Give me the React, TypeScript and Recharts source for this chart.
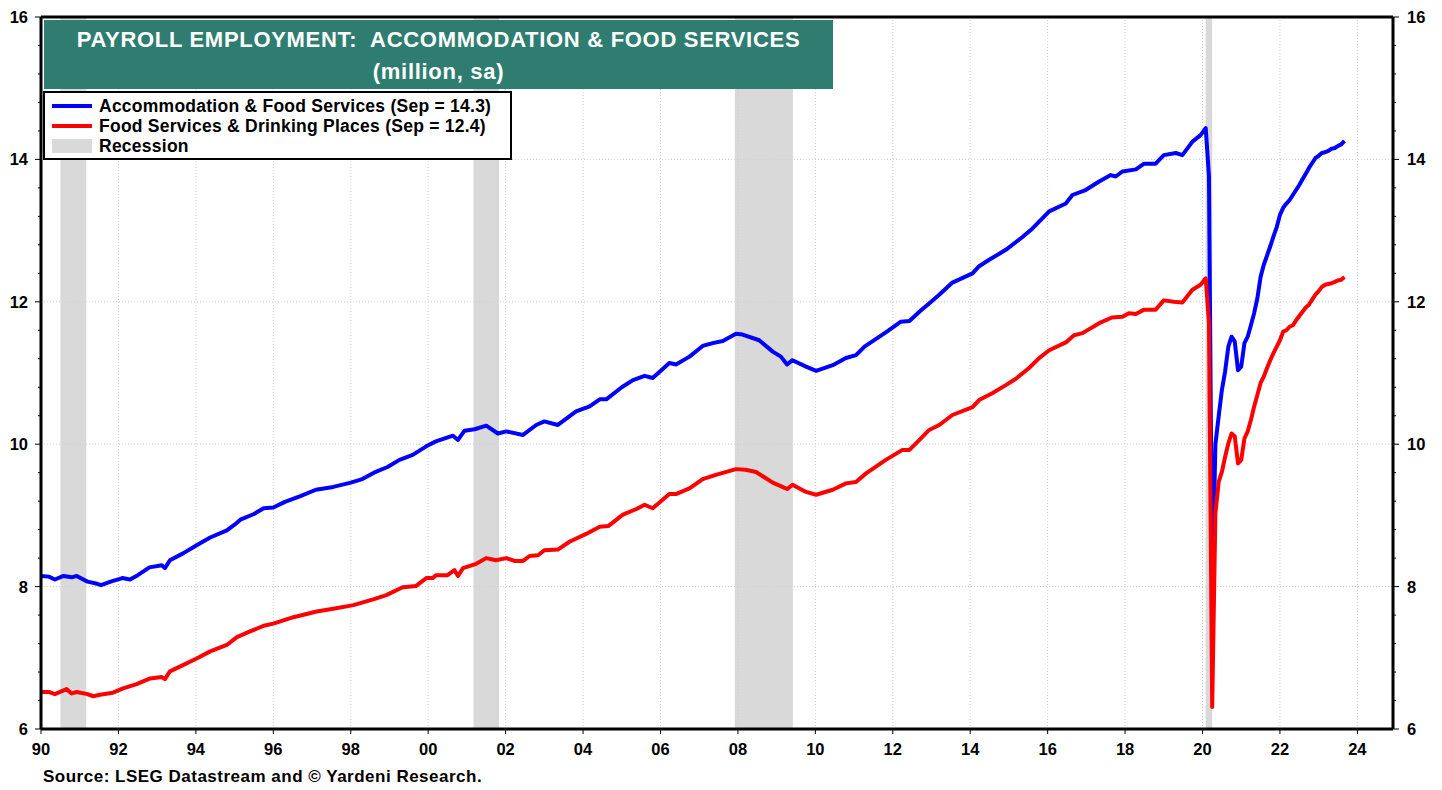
import React from "react";
import {
  LineChart,
  Line,
  XAxis,
  YAxis,
  ReferenceArea,
  ReferenceLine,
} from "recharts";

// ---------- DATA (decimal years, million, sa) ----------
const accDates = [
  1990.0, 1990.2, 1990.36, 1990.58, 1990.8, 1990.92, 1991.2, 1991.45, 1991.55, 1991.8,
  1992.1, 1992.3, 1992.5, 1992.8, 1993.12, 1993.2, 1993.33, 1993.68, 1994.02, 1994.37,
  1994.8, 1995.0, 1995.15, 1995.5, 1995.75, 1996.0, 1996.3, 1996.7, 1997.1, 1997.55,
  1998.0, 1998.3, 1998.6, 1998.95, 1999.26, 1999.6, 1999.95, 2000.2, 2000.64, 2000.77,
  2000.94, 2001.2, 2001.5, 2001.8, 2002.02, 2002.45, 2002.79, 2003.0, 2003.35, 2003.82,
  2004.17, 2004.43, 2004.6, 2005.0, 2005.29, 2005.59, 2005.8, 2006.23, 2006.4, 2006.75,
  2007.09, 2007.35, 2007.61, 2007.95, 2008.12, 2008.55, 2008.9, 2009.11, 2009.27, 2009.41,
  2009.76, 2010.02, 2010.45, 2010.79, 2011.05, 2011.27, 2011.82, 2012.21, 2012.43, 2012.73,
  2012.9, 2013.2, 2013.54, 2014.06, 2014.23, 2014.49, 2014.92, 2015.35, 2015.61, 2016.04,
  2016.47, 2016.64, 2016.98, 2017.33, 2017.63, 2017.76, 2017.93, 2018.28, 2018.49, 2018.79,
  2019.0, 2019.31, 2019.48, 2019.74, 2019.95, 2020.083, 2020.167, 2020.25, 2020.333, 2020.417,
  2020.5, 2020.583, 2020.667, 2020.75, 2020.833, 2020.917, 2021.0, 2021.083, 2021.167, 2021.25,
  2021.333, 2021.417, 2021.5, 2021.583, 2021.667, 2021.75, 2021.833, 2021.917, 2022.0, 2022.083,
  2022.167, 2022.25, 2022.333, 2022.417, 2022.5, 2022.583, 2022.667, 2022.75, 2022.833, 2022.917,
  2023.0, 2023.083, 2023.167, 2023.25, 2023.333, 2023.417, 2023.5, 2023.583, 2023.667,
];
const accValues = [
  8.15, 8.14, 8.10, 8.15, 8.13, 8.15, 8.07, 8.04, 8.02, 8.07,
  8.12, 8.10, 8.16, 8.27, 8.30, 8.26, 8.37, 8.47, 8.58, 8.69,
  8.79, 8.87, 8.94, 9.02, 9.10, 9.11, 9.19, 9.27, 9.36, 9.40,
  9.46, 9.51, 9.60, 9.68, 9.78, 9.85, 9.97, 10.04, 10.12, 10.06,
  10.19, 10.21, 10.26, 10.15, 10.18, 10.13, 10.27, 10.32, 10.27, 10.46,
  10.53, 10.63, 10.63, 10.80, 10.90, 10.96, 10.93, 11.14, 11.12, 11.23,
  11.38, 11.42, 11.45, 11.55, 11.54, 11.46, 11.30, 11.23, 11.12, 11.18,
  11.09, 11.03, 11.11, 11.21, 11.25, 11.37, 11.57, 11.72, 11.73, 11.88,
  11.96, 12.10, 12.27, 12.40, 12.50, 12.59, 12.73, 12.91, 13.03, 13.27,
  13.38, 13.50, 13.57, 13.69, 13.78, 13.76, 13.83, 13.86, 13.94, 13.94,
  14.06, 14.09, 14.06, 14.25, 14.34, 14.44, 13.76, 7.9, 10.0, 10.39,
  10.76, 11.02, 11.37, 11.51, 11.44, 11.04, 11.09, 11.42, 11.51, 11.67,
  11.84, 12.05, 12.35, 12.52, 12.65, 12.78, 12.92, 13.05, 13.22, 13.32,
  13.38, 13.43, 13.50, 13.57, 13.64, 13.72, 13.80, 13.88, 13.95, 14.02,
  14.05, 14.09, 14.10, 14.12, 14.15, 14.16, 14.19, 14.21, 14.26,
];

const foodDates = [
  1990.0, 1990.2, 1990.36, 1990.66, 1990.79, 1990.92, 1991.2, 1991.35, 1991.52, 1991.86,
  1992.12, 1992.47, 1992.82, 1993.12, 1993.2, 1993.33, 1993.68, 1994.02, 1994.37, 1994.8,
  1995.06, 1995.4, 1995.75, 1996.0, 1996.52, 1997.12, 1997.55, 1998.07, 1998.58, 1998.92,
  1999.34, 1999.69, 1999.95, 2000.12, 2000.2, 2000.5, 2000.68, 2000.77, 2000.9, 2001.24,
  2001.5, 2001.75, 2002.02, 2002.23, 2002.45, 2002.62, 2002.84, 2003.0, 2003.35, 2003.65,
  2004.08, 2004.43, 2004.65, 2005.03, 2005.38, 2005.59, 2005.8, 2006.23, 2006.4, 2006.75,
  2007.09, 2007.43, 2007.95, 2008.2, 2008.47, 2008.9, 2009.15, 2009.27, 2009.41, 2009.76,
  2010.02, 2010.45, 2010.79, 2011.05, 2011.31, 2011.82, 2012.25, 2012.43, 2012.69, 2012.94,
  2013.2, 2013.54, 2014.06, 2014.23, 2014.58, 2014.92, 2015.18, 2015.52, 2015.78, 2016.04,
  2016.47, 2016.68, 2016.9, 2017.33, 2017.66, 2017.93, 2018.1, 2018.28, 2018.49, 2018.79,
  2019.0, 2019.26, 2019.48, 2019.74, 2019.95, 2020.083, 2020.167, 2020.25, 2020.333, 2020.417,
  2020.5, 2020.583, 2020.667, 2020.75, 2020.833, 2020.917, 2021.0, 2021.083, 2021.167, 2021.25,
  2021.333, 2021.417, 2021.5, 2021.583, 2021.667, 2021.75, 2021.833, 2021.917, 2022.0, 2022.083,
  2022.167, 2022.25, 2022.333, 2022.417, 2022.5, 2022.583, 2022.667, 2022.75, 2022.833, 2022.917,
  2023.0, 2023.083, 2023.167, 2023.25, 2023.333, 2023.417, 2023.5, 2023.583, 2023.667,
];
const foodValues = [
  6.52, 6.52, 6.49, 6.56, 6.50, 6.52, 6.49, 6.46, 6.48, 6.51,
  6.57, 6.63, 6.71, 6.73, 6.70, 6.81, 6.90, 6.99, 7.09, 7.18,
  7.29, 7.37, 7.45, 7.48, 7.57, 7.65, 7.69, 7.74, 7.82, 7.88,
  7.99, 8.01, 8.12, 8.12, 8.16, 8.16, 8.23, 8.15, 8.26, 8.32,
  8.40, 8.37, 8.40, 8.36, 8.36, 8.43, 8.44, 8.51, 8.52, 8.63,
  8.74, 8.84, 8.85, 9.01, 9.09, 9.15, 9.10, 9.30, 9.30, 9.38,
  9.51, 9.57, 9.65, 9.64, 9.61, 9.46, 9.40, 9.37, 9.43, 9.33,
  9.29, 9.36, 9.45, 9.47, 9.59, 9.78, 9.92, 9.92, 10.06, 10.20,
  10.27, 10.41, 10.52, 10.62, 10.72, 10.83, 10.92, 11.07, 11.21, 11.32,
  11.43, 11.53, 11.56, 11.70, 11.78, 11.79, 11.84, 11.83, 11.89, 11.89,
  12.02, 12.00, 11.99, 12.17, 12.24, 12.33, 11.70, 6.31, 9.03, 9.47,
  9.61, 9.82, 10.01, 10.15, 10.11, 9.73, 9.78, 10.08, 10.18, 10.34,
  10.53, 10.69, 10.86, 10.95, 11.07, 11.18, 11.28, 11.37, 11.46, 11.58,
  11.60, 11.65, 11.67, 11.74, 11.80, 11.86, 11.92, 11.96, 12.03, 12.10,
  12.15, 12.21, 12.24, 12.25, 12.26, 12.28, 12.30, 12.31, 12.35,
];

const recessionStart = [1990.5, 2001.17, 2007.92, 2020.08];
const recessionEnd = [1991.17, 2001.83, 2009.42, 2020.25];

const xTicks = [1990, 1992, 1994, 1996, 1998, 2000, 2002, 2004, 2006, 2008, 2010, 2012, 2014, 2016, 2018, 2020, 2022, 2024];
const yTicks = [6, 6.4, 6.8, 7.2, 7.6, 8, 8.4, 8.8, 9.2, 9.6, 10, 10.4, 10.8, 11.2, 11.6, 12, 12.4, 12.8, 13.2, 13.6, 14, 14.4, 14.8, 15.2, 15.6, 16];
const yLabels = [6, 8, 10, 12, 14, 16];

const titleLine1 = "PAYROLL EMPLOYMENT:  ACCOMMODATION & FOOD SERVICES";
const titleLine2 = "(million, sa)";
const legendLabels = [
  "Accommodation & Food Services (Sep = 14.3)",
  "Food Services & Drinking Places (Sep = 12.4)",
  "Recession",
];
const sourceText = "Source: LSEG Datastream and \u00A9 Yardeni Research.";

const accData = accDates.map((t, i) => ({ t, v: accValues[i] }));
const foodData = foodDates.map((t, i) => ({ t, v: foodValues[i] }));

// ---------- STYLE ----------
const FONT = "'Liberation Sans', Arial, Helvetica, sans-serif";
const BLUE = "#0000ff";
const RED = "#ff0000";
const GREEN = "#2e7d70";
const SHADE = "#d9d9d9";
const GRID = "#cfcfcf";

const isLabel = (v: number) => yLabels.some((l) => Math.abs(l - v) < 1e-6);

const LeftTick = (props: any) => {
  const { x, y, payload } = props;
  const v = payload.value as number;
  const major = isLabel(v);
  return (
    <g>
      <line x1={x - (major ? 6 : 3)} x2={x} y1={y} y2={y} stroke="#000" strokeWidth={1} />
      {major && (
        <text x={x - 13} y={y} dy="0.36em" textAnchor="end" fontFamily={FONT} fontWeight="bold" fontSize={16.5} fill="#000">
          {v}
        </text>
      )}
    </g>
  );
};

const RightTick = (props: any) => {
  const { x, y, payload } = props;
  const v = payload.value as number;
  const major = isLabel(v);
  return (
    <g>
      <line x1={x} x2={x + (major ? 6 : 3)} y1={y} y2={y} stroke="#000" strokeWidth={1} />
      {major && (
        <text x={x + 14} y={y} dy="0.36em" textAnchor="start" fontFamily={FONT} fontWeight="bold" fontSize={16.5} fill="#000">
          {v}
        </text>
      )}
    </g>
  );
};

const BottomTick = (props: any) => {
  const { x, y, payload } = props;
  const v = payload.value as number;
  const label = String(Math.round(v) % 100).padStart(2, "0");
  return (
    <g>
      <line x1={x} x2={x} y1={y} y2={y + 5} stroke="#000" strokeWidth={1} />
      <text x={x} y={y + 20} dy="0.36em" textAnchor="middle" fontFamily={FONT} fontWeight="bold" fontSize={16.5} fill="#000">
        {label}
      </text>
    </g>
  );
};

export default function App() {
  return (
    <div style={{ position: "absolute", left: 0, top: 0, width: 1442, height: 790, background: "#fff", fontFamily: FONT }}>
      <LineChart width={1442} height={790} margin={{ top: 17, right: 0, bottom: 0, left: 0 }}>
        <XAxis
          dataKey="t"
          type="number"
          domain={[1990, 2024.92]}
          ticks={xTicks}
          interval={0}
          allowDataOverflow
          height={61}
          tickSize={0}
          tickMargin={0}
          tickLine={false}
          tick={<BottomTick />}
          axisLine={{ stroke: "#000", strokeWidth: 3 }}
        />
        <YAxis
          yAxisId="left"
          orientation="left"
          type="number"
          domain={[6, 16]}
          ticks={yTicks}
          interval={0}
          allowDataOverflow
          width={41}
          tickSize={0}
          tickMargin={0}
          tickLine={false}
          tick={<LeftTick />}
          axisLine={{ stroke: "#000", strokeWidth: 3 }}
        />
        <YAxis
          yAxisId="right"
          orientation="right"
          type="number"
          domain={[6, 16]}
          ticks={yTicks}
          interval={0}
          allowDataOverflow
          width={49}
          tickSize={0}
          tickMargin={0}
          tickLine={false}
          tick={<RightTick />}
          axisLine={{ stroke: "#000", strokeWidth: 3 }}
        />
        {recessionStart.map((s, i) => (
          <ReferenceArea
            key={"rec" + i}
            yAxisId="left"
            x1={s}
            x2={recessionEnd[i]}
            y1={6}
            y2={16}
            fill={SHADE}
            fillOpacity={1}
            stroke="none"
          />
        ))}
        {xTicks.slice(1).map((t) => (
          <ReferenceLine key={"vx" + t} yAxisId="left" x={t} stroke={GRID} strokeDasharray="1 2" />
        ))}
        {yLabels.slice(1, -1).map((v) => (
          <ReferenceLine key={"hy" + v} yAxisId="left" y={v} stroke={GRID} strokeDasharray="1 2" />
        ))}
        <Line
          yAxisId="left"
          data={accData}
          dataKey="v"
          type="linear"
          stroke={BLUE}
          strokeWidth={4}
          dot={false}
          activeDot={false}
          isAnimationActive={false}
          strokeLinejoin="round"
        />
        <Line
          yAxisId="left"
          data={foodData}
          dataKey="v"
          type="linear"
          stroke={RED}
          strokeWidth={4}
          dot={false}
          activeDot={false}
          isAnimationActive={false}
          strokeLinejoin="round"
        />
        <ReferenceLine yAxisId="left" y={16} stroke="#000" strokeWidth={3} />
      </LineChart>

      {/* Title box */}
      <div
        style={{
          position: "absolute",
          left: 44,
          top: 20,
          width: 789,
          height: 69,
          background: GREEN,
          color: "#fff",
          fontWeight: "bold",
          fontSize: 22,
          letterSpacing: 0.7,
          textAlign: "center",
        }}
      >
        <div style={{ position: "absolute", left: 0, right: 0, top: 8, lineHeight: "24px", whiteSpace: "pre" }}>{titleLine1}</div>
        <div style={{ position: "absolute", left: 0, right: 0, top: 40, lineHeight: "24px" }}>{titleLine2}</div>
      </div>

      {/* Legend box */}
      <div
        style={{
          position: "absolute",
          left: 43,
          top: 91,
          width: 465,
          height: 65,
          background: "#fff",
          border: "2px solid #000",
          fontWeight: "bold",
          fontSize: 17.5,
          letterSpacing: 0.25,
          color: "#000",
        }}
      >
        {legendLabels.map((label, i) => (
          <div key={label} style={{ position: "absolute", left: 0, top: 3 + i * 20, height: 20, width: 462 }}>
            {i < 2 ? (
              <div style={{ position: "absolute", left: 7, top: 8, width: 40, height: 4, background: i === 0 ? BLUE : RED }} />
            ) : (
              <div style={{ position: "absolute", left: 7, top: 3, width: 40, height: 14, background: SHADE }} />
            )}
            <div style={{ position: "absolute", left: 54, top: 0, lineHeight: "20px", whiteSpace: "nowrap" }}>{label}</div>
          </div>
        ))}
      </div>

      {/* Source */}
      <div
        style={{
          position: "absolute",
          left: 43,
          top: 767,
          fontWeight: "bold",
          fontSize: 17,
          letterSpacing: 0.5,
          lineHeight: "20px",
          color: "#000",
          whiteSpace: "nowrap",
        }}
      >
        {sourceText}
      </div>
    </div>
  );
}
